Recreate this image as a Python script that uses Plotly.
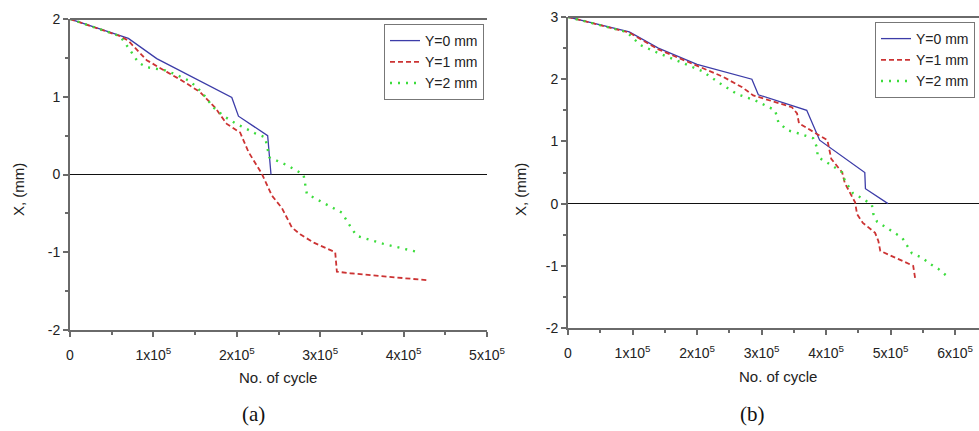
import plotly.graph_objects as go

# ---- panel (a): crack-front position X vs. number of cycles ----
a_y0_cycles = [0, 70000, 104000, 145000, 194000, 202000, 237000, 241000]
a_y0_x = [2.0, 1.75, 1.49, 1.26, 0.99, 0.75, 0.5, 0.0]

a_y1_cycles = [0, 60000, 70000, 92000, 116000, 134000, 156000, 174000, 188000, 204000,
               214000, 230000, 242000, 254000, 266000, 276000, 293000, 318000, 320000,
               336000, 428000]
a_y1_x = [2.0, 1.78, 1.72, 1.47, 1.32, 1.21, 1.06, 0.86, 0.65, 0.54,
          0.29, 0.01, -0.27, -0.43, -0.68, -0.77, -0.88, -1.0, -1.25,
          -1.27, -1.36]

a_y2_cycles = [0, 60000, 72000, 82000, 92000, 114000, 126000, 144000, 158000, 172000,
               186000, 198000, 222000, 234000, 239000, 260000, 280000, 284000, 303000,
               326000, 338000, 344000, 375000, 418000]
a_y2_x = [2.0, 1.78, 1.60, 1.44, 1.38, 1.34, 1.29, 1.20, 1.06, 0.86,
          0.74, 0.66, 0.53, 0.48, 0.22, 0.12, 0.0, -0.25, -0.36,
          -0.49, -0.70, -0.79, -0.89, -1.0]

# ---- panel (b) ----
b_y0_cycles = [0, 95000, 140000, 200000, 285000, 295000, 370000, 390000, 460000, 461000, 496000]
b_y0_x = [3.0, 2.76, 2.5, 2.24, 2.0, 1.75, 1.5, 1.02, 0.5, 0.24, 0.0]

b_y1_cycles = [0, 95000, 140000, 200000, 240000, 270000, 287000, 347000, 355000, 358000,
               383000, 402000, 408000, 425000, 429000, 445000, 448000, 457000, 476000,
               481000, 484000, 515000, 535000, 538000]
b_y1_x = [3.0, 2.75, 2.48, 2.22, 2.04, 1.87, 1.74, 1.55, 1.45, 1.29,
          1.13, 1.02, 0.72, 0.5, 0.33, 0.02, -0.17, -0.31, -0.47,
          -0.6, -0.76, -0.91, -1.0, -1.2]

b_y2_cycles = [0, 91000, 112000, 140000, 178000, 208000, 236000, 262000, 290000, 321000,
               326000, 340000, 360000, 380000, 386000, 387000, 411000, 425000, 429000,
               442000, 457000, 471000, 473000, 479000, 500000, 518000, 533000, 549000,
               561000, 574000, 589000]
b_y2_x = [3.0, 2.76, 2.55, 2.42, 2.26, 2.13, 1.93, 1.76, 1.66, 1.5,
          1.31, 1.18, 1.12, 1.05, 0.9, 0.75, 0.6, 0.5, 0.37,
          0.16, 0.08, -0.02, -0.16, -0.29, -0.43, -0.55, -0.8, -0.87,
          -0.97, -1.05, -1.18]

series_names = ["Y=0 mm", "Y=1 mm", "Y=2 mm"]
colors = ["#3c3ca8", "#cc3333", "#3cdc3c"]
dashes = ["solid", "5px,3px", "2px,6px"]
widths = [1.3, 1.8, 2.4]

a_ticks = [0, 100000, 200000, 300000, 400000, 500000]
a_ticktext = ["0", "1x10<sup>5</sup>", "2x10<sup>5</sup>", "3x10<sup>5</sup>",
              "4x10<sup>5</sup>", "5x10<sup>5</sup>"]
b_ticks = [0, 100000, 200000, 300000, 400000, 500000, 600000]
b_ticktext = ["0", "1x10<sup>5</sup>", "2x10<sup>5</sup>", "3x10<sup>5</sup>",
              "4x10<sup>5</sup>", "5x10<sup>5</sup>", "6x10<sup>5</sup>"]
a_yticks = [-2, -1, 0, 1, 2]
b_yticks = [-2, -1, 0, 1, 2, 3]

W, H = 979, 431
FONT = "Liberation Sans, Arial, sans-serif"
AXIS_COLOR = "#6a6a6a"

fig = go.Figure()

panel_a = [(a_y0_cycles, a_y0_x), (a_y1_cycles, a_y1_x), (a_y2_cycles, a_y2_x)]
panel_b = [(b_y0_cycles, b_y0_x), (b_y1_cycles, b_y1_x), (b_y2_cycles, b_y2_x)]

for i, (xs, ys) in enumerate(panel_a):
    fig.add_trace(go.Scatter(
        x=xs, y=ys, mode="lines", name=series_names[i],
        line=dict(color=colors[i], dash=dashes[i], width=widths[i]),
        xaxis="x", yaxis="y", legend="legend"))
for i, (xs, ys) in enumerate(panel_b):
    fig.add_trace(go.Scatter(
        x=xs, y=ys, mode="lines", name=series_names[i],
        line=dict(color=colors[i], dash=dashes[i], width=widths[i]),
        xaxis="x2", yaxis="y2", legend="legend2"))


def xaxis_style(domain, rng, ticks, text, anchor):
    return dict(
        domain=domain, range=rng, anchor=anchor, automargin=False,
        tickmode="array", tickvals=ticks, ticktext=text,
        showline=True, linecolor=AXIS_COLOR, linewidth=2,
        ticks="outside", ticklen=5, tickwidth=1.5, tickcolor=AXIS_COLOR,
        minor=dict(dtick=50000, tick0=0, ticks="outside", ticklen=3,
                   tickwidth=1.5, tickcolor=AXIS_COLOR),
        showgrid=False, zeroline=False, ticklabelstandoff=6,
        tickfont=dict(family=FONT, size=14, color="#222"),
    )


def yaxis_style(domain, rng, ticks, anchor):
    return dict(
        domain=domain, range=rng, anchor=anchor, automargin=False,
        tickmode="array", tickvals=ticks, ticktext=[str(t) for t in ticks],
        showline=True, linecolor=AXIS_COLOR, linewidth=2,
        ticks="outside", ticklen=5, tickwidth=1.5, tickcolor=AXIS_COLOR,
        minor=dict(dtick=0.5, tick0=0, ticks="outside", ticklen=3,
                   tickwidth=1.5, tickcolor=AXIS_COLOR),
        showgrid=False, zeroline=True, zerolinecolor="#111", zerolinewidth=1,
        tickfont=dict(family=FONT, size=14, color="#222"),
    )


xa_dom = [70 / W, 487 / W]
ya_dom = [(H - 330) / H, (H - 19) / H]
xb_dom = [568 / W, 1.0]
yb_dom = [(H - 328) / H, (H - 17) / H]

legend_style = dict(
    bgcolor="white", bordercolor="#777", borderwidth=1,
    font=dict(family=FONT, size=14, color="#222"),
    xanchor="left", yanchor="top", tracegroupgap=0, itemwidth=30,
)

fig.update_layout(
    width=W, height=H,
    margin=dict(l=0, r=0, t=0, b=0, autoexpand=False),
    paper_bgcolor="white", plot_bgcolor="white",
    xaxis=xaxis_style(xa_dom, [0, 500000], a_ticks, a_ticktext, "y"),
    yaxis=yaxis_style(ya_dom, [-2, 2], a_yticks, "x"),
    xaxis2=xaxis_style(xb_dom, [0, 637000], b_ticks, b_ticktext, "y2"),
    yaxis2=yaxis_style(yb_dom, [-2, 3], b_yticks, "x2"),
    legend=dict(x=384 / W, y=1 - 24 / H, **legend_style),
    legend2=dict(x=875 / W, y=1 - 22 / H, **legend_style),
)

# top frame line of each panel
for xr, yr in (("x", "y"), ("x2", "y2")):
    fig.add_shape(type="line", xref=f"{xr} domain", yref=f"{yr} domain",
                  x0=0, x1=1, y0=1, y1=1,
                  line=dict(color=AXIS_COLOR, width=2))

# axis titles and panel captions
ann = []
for cx, cy in ((18, 190), (520, 190)):
    ann.append(dict(text="X, (mm)", x=cx / W, y=1 - cy / H, xref="paper", yref="paper",
                    xanchor="center", yanchor="middle",
                    textangle=-90, showarrow=False,
                    font=dict(family=FONT, size=15, color="#222")))
for cx, cy in ((278, 377), (778, 376)):
    ann.append(dict(text="No. of cycle", x=cx / W, y=1 - cy / H, xref="paper", yref="paper",
                    xanchor="center", yanchor="middle",
                    showarrow=False, font=dict(family=FONT, size=15, color="#222")))
for label, cx in (("(a)", 253), ("(b)", 752)):
    ann.append(dict(text=label, x=cx / W, y=1 - 414 / H, xref="paper", yref="paper",
                    xanchor="center", yanchor="middle", showarrow=False,
                    font=dict(family="Liberation Serif, Times New Roman, serif",
                              size=21, color="#111")))
fig.update_layout(annotations=ann)

fig.write_html("out.html")
